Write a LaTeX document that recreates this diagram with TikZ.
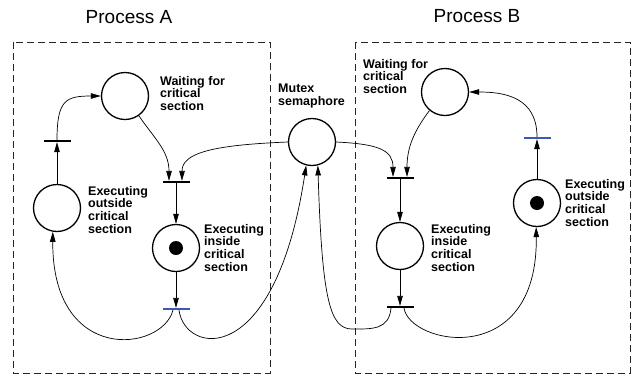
\documentclass[tikz,border=0pt]{standalone}
\usepackage{fontspec}
\setmainfont{Liberation Sans}
\usetikzlibrary{arrows.meta,calc}
\definecolor{barblue}{RGB}{60,90,180}
\tikzset{
  place/.style={circle,draw,line width=1.3pt,minimum size=47pt,inner sep=0pt},
  tokendot/.style={circle,fill,minimum size=14pt,inner sep=0pt},
  trans/.style={rectangle,fill=black,minimum width=27pt,minimum height=1.8pt,inner sep=0pt},
  transblue/.style={trans,fill=barblue},
  arc/.style={line width=0.7pt,-{Triangle[length=10pt,width=5.5pt]}},
  procbox/.style={draw=black!85,line width=0.8pt,dash pattern=on 7pt off 4pt},
  lbl/.style={anchor=north west,inner sep=0pt,align=left,font=\fontsize{12.5}{12.7}\selectfont\bfseries},
  title/.style={font=\fontsize{19}{22}\selectfont}
}
\begin{document}
\begin{tikzpicture}[x=1pt,y=-1pt]
\useasboundingbox (0,0) rectangle (643,376);
% boxes
\draw[procbox] (13,42) rectangle (270,373);
\draw[procbox] (355,42) rectangle (630,373);
\node[title] (titleA) at (129,17) {Process A};
\node[title] (titleB) at (477,16) {Process B};
% Process A
\node[place] (wA) at (125,96) {};
\node[place] (eoA) at (57,208) {};
\node[place] (eiA) at (176,248) {};
\node[tokendot] (dotA) at (eiA) {};
\node[trans] (t1A) at (57,141) {};
\node[trans] (t2A) at (176,182) {};
\node[transblue] (t3A) at (176,309) {};
% Mutex
\node[place] (mx) at (312,142) {};
% Process B
\node[place] (wB) at (445,92) {};
\node[place] (eiB) at (400,246) {};
\node[place] (eoB) at (537,203) {};
\node[tokendot] (dotB) at (eoB) {};
\node[transblue] (t1B) at (537,138) {};
\node[trans] (t2B) at (400,178) {};
\node[trans] (t3B) at (400,307) {};
% labels
\node[lbl] (lwA) at (160,76) {Waiting for\\critical\\section};
\node[lbl] (leoA) at (88,186) {Executing\\outside\\critical\\section};
\node[lbl] (leiA) at (204,224) {Executing\\inside\\critical\\section};
\node[lbl] (lmx) at (278,84) {Mutex\\semaphore};
\node[lbl] (lwB) at (363,59) {Waiting for\\critical\\section};
\node[lbl] (leiB) at (431,224) {Executing\\inside\\critical\\section};
\node[lbl] (leoB) at (565,179) {Executing\\outside\\critical\\section};
% arcs Process A
\draw[arc] (eoA.north) -- (t1A.south);
\draw[arc] (t1A.north) .. controls +(0,-40) and +(-35,0) .. (wA.west);
\draw[arc] (wA.-55) .. controls +(15,22) and +(0,-30) .. ($(t2A.north)+(-7,0)$);
\draw[arc] (mx.west) .. controls +(-75,3) and +(0,-28) .. ($(t2A.north)+(6,0)$);
\draw[arc] (t2A.south) -- (eiA.north);
\draw[arc] (eiA.south) -- (t3A.north);
\draw[arc] ($(t3A.south)+(-3,0)$) .. controls (162,352) and (52,365) .. (eoA.260);
\draw[arc] ($(t3A.south)+(3,0)$) .. controls (185,355) and (275,370) .. (mx.256);
% arcs Process B
\draw[arc] (mx.east) .. controls +(42,2) and +(0,-27) .. ($(t2B.north)+(-7,0)$);
\draw[arc] (wB.-130) .. controls +(-15,20) and +(0,-30) .. ($(t2B.north)+(7,0)$);
\draw[arc] (t2B.south) -- (eiB.north);
\draw[arc] (eiB.south) -- (t3B.north);
\coordinate (lowB) at (352,329);
\draw[arc] ($(t3B.south)+(-9,0)$) .. controls (389,330) and (372,329) .. (lowB)
  .. controls (330,329) and (322,300) .. (mx.284);
\draw[arc] ($(t3B.south)+(4,0)$) .. controls (410,345) and (538,370) .. (eoB.268);
\draw[arc] (eoB.north) -- (t1B.south);
\draw[arc] (t1B.north) .. controls +(0,-40) and +(35,0) .. (wB.east);
\end{tikzpicture}
\end{document}
